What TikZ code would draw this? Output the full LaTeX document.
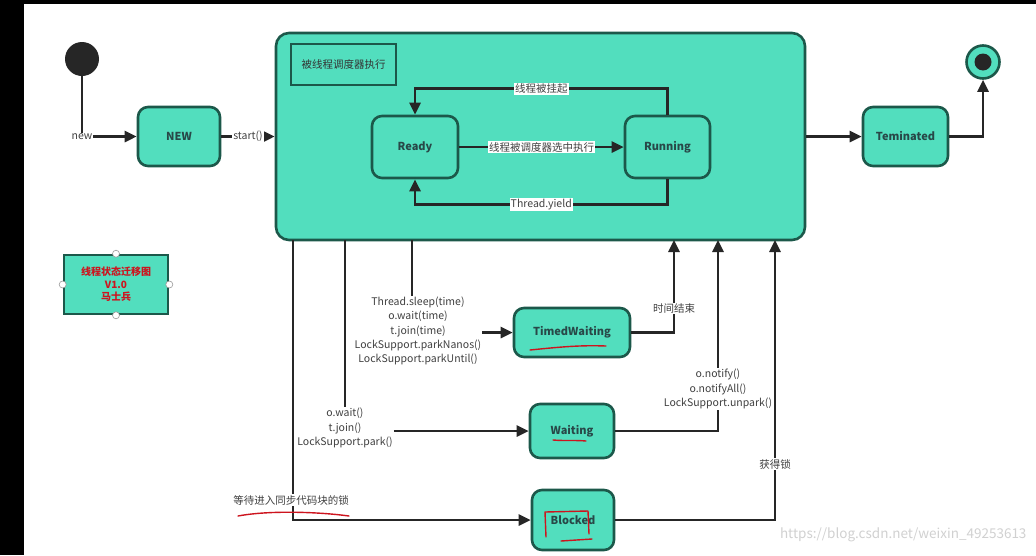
\documentclass[tikz,border=0pt]{standalone}
\usepackage{fontspec}
\setmainfont{Noto Sans CJK SC}
\usetikzlibrary{arrows.meta}

\definecolor{stateFill}{RGB}{82,222,190}
\definecolor{stateLine}{RGB}{28,88,74}
\definecolor{stateText}{RGB}{40,72,72}
\definecolor{inkRed}{RGB}{205,20,30}

\begin{document}
\begin{tikzpicture}[
    x=1pt, y=-1pt, % one unit is one pixel of the screen grab
    state/.style={
        draw=stateLine, % dark green border
        line width=2.6pt,
        fill=stateFill, % mint fill
        rounded corners=10pt,
        text=stateText,
        font=\bfseries\fontsize{11}{13}\selectfont
    },
    lbl/.style={
        fill=white, % hides the line under the text
        inner sep=1pt,
        align=center,
        text=black!75,
        font=\fontsize{10.5}{14.2}\selectfont
    },
    flow/.style={
        draw=black!85,
        line width=2.6pt,
        -{Triangle[length=12pt,width=11pt]}
    },
    wire/.style={draw=black!85, line width=2.6pt},
    scrawl/.style={draw=inkRed, line width=1.4pt, line cap=round, line join=round}
]

% screen frame
\fill[black] (0,0) rectangle (1036,555);
\fill[white] (24,4) rectangle (1036,555);
\useasboundingbox (0,0) rectangle (1036,555);

% top row
\node[circle, fill=black!85, minimum size=34pt, inner sep=0pt] (init) at (82,59) {};
\node[state, minimum width=82pt, minimum height=59pt] (new) at (179,136.5) {NEW};
\node[state, rounded corners=13pt, minimum width=529pt, minimum height=207pt] (sched) at (540.5,136.5) {};
\node[draw=stateLine, line width=2.6pt, minimum width=105pt, minimum height=41pt,
      text=black!80, font=\fontsize{10.5}{12}\selectfont] (schedtag) at (343.5,64.5) {被线程调度器执行};
\node[state, minimum width=86pt, minimum height=62pt] (ready) at (415,147) {Ready};
\node[state, minimum width=85pt, minimum height=62pt] (running) at (667.5,147) {Running};
\node[state, minimum width=85pt, minimum height=59pt] (term) at (905.5,136.5) {Teminated};
\node[circle, draw=stateLine, line width=2.6pt, fill=stateFill, minimum size=33pt, inner sep=0pt] (final) at (983,62) {};
\fill[black!85] (final.center) circle (8.5pt);

% legend
\node[draw=stateLine, line width=2.6pt, fill=stateFill, minimum width=104pt, minimum height=59pt,
      align=center, text=inkRed, font=\bfseries\fontsize{10}{12.5}\selectfont] (legend) at (116,284.5) {线程状态迁移图\\V1.0\\马士兵};
\foreach \a in {north,south,east,west}
    \draw[black!40, fill=white, line width=0.6pt] (legend.\a) circle (3.5pt);

% waiting states
\node[state, minimum width=116pt, minimum height=49pt] (timed) at (572,332.5) {TimedWaiting};
\node[state, minimum width=84pt, minimum height=54pt] (waiting) at (572,431) {Waiting};
\node[state, minimum width=82pt, minimum height=60pt] (blocked) at (573,520) {Blocked};

\node[lbl] (sleeplbl) at (418,331) {Thread.sleep(time)\\o.wait(time)\\t.join(time)\\LockSupport.parkNanos()\\LockSupport.parkUntil()};
\node[lbl] (waitlbl) at (345,428) {o.wait()\\t.join()\\LockSupport.park()};

\coordinate (outblk) at (293,240);
\coordinate (outwait) at (345,240);
\coordinate (outsleep) at (412,240);
\coordinate (inTimed) at (674,240);
\coordinate (inWait) at (718,240);
\coordinate (inLock) at (775,240);

% connectors
\draw[flow] (init) |- node[lbl, pos=0.5]{new} (new);
\draw[flow] (new) -- node[lbl, pos=0.5]{start()} (sched);
\draw[flow] (running.north) -- ++(0,-26) -| node[lbl, pos=0.25]{线程被挂起} (ready.north);
\draw[flow] (ready) -- node[lbl]{线程被调度器选中执行} (running);
\draw[flow] (running.south) -- ++(0,25) -| node[lbl, pos=0.25]{Thread.yield} (ready.south);
\draw[flow] (sched) -- (term);
\draw[flow] (term) -| (final);

\draw[flow] (outblk) |- (blocked);
\node[lbl] (lockwait) at (291,500) {等待进入同步代码块的锁};
\draw[wire] (outwait) -- (waitlbl.north);
\draw[flow] (waitlbl.east |- waiting) -- (waiting);
\draw[wire] (outsleep) -- (outsleep |- sleeplbl.north);
\draw[flow] (sleeplbl.east |- timed) -- (timed);

\draw[flow] (timed) -| node[lbl, pos=0.63]{时间结束} (inTimed);
\draw[flow] (waiting) -| node[lbl, pos=0.61]{o.notify()\\o.notifyAll()\\LockSupport.unpark()} (inWait);
\draw[flow] (blocked) -| node[lbl, pos=0.6]{获得锁} (inLock);

% red pen marks
\draw[scrawl] (530,350) .. controls (560,347) and (580,345) .. (606,346);
\draw[scrawl] (553,440) .. controls (565,441) and (575,440) .. (586,441);
\draw[scrawl] (546,537) -- (545,512) -- (588,511) -- (589,534);
\draw[scrawl] (561,541) -- (592,539);
\draw[scrawl] (238,516) .. controls (270,510) and (320,512) .. (349,516);

\node[anchor=east, text=black!18, font=\fontsize{13.5}{15}\selectfont] (url) at (1030,535) {https://blog.csdn.net/weixin\_49253613};
\end{tikzpicture}
\end{document}
